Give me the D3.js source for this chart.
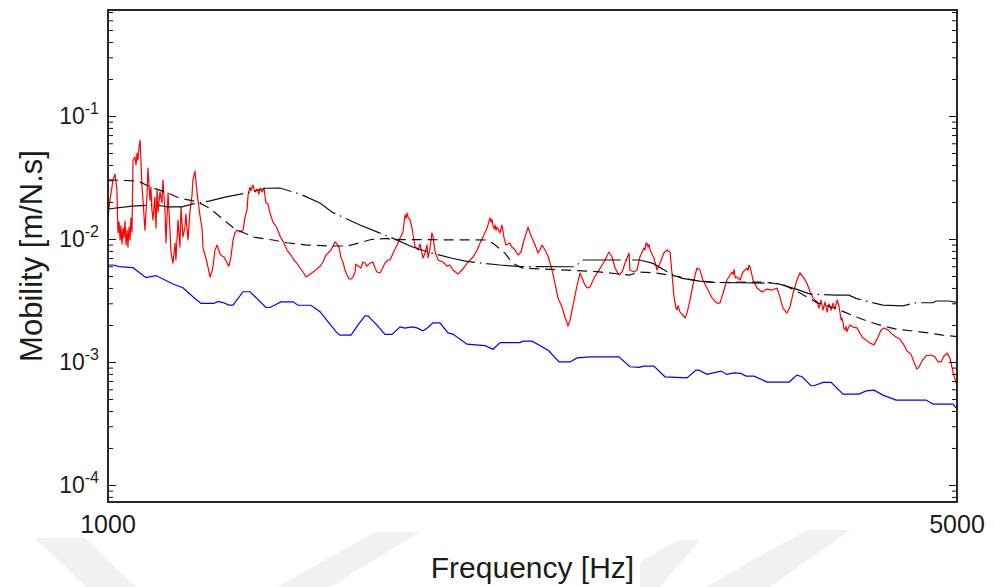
<!DOCTYPE html>
<html>
<head>
<meta charset="utf-8">
<script src="https://cdn.jsdelivr.net/npm/d3@7"></script>
<style>
  body { margin: 0; background: #fff; }
  svg { display: block; }
  text { font-family: "Liberation Sans", Arial, sans-serif; fill: #1c1c1c; }
</style>
</head>
<body>
<svg id="chart" width="994" height="587"></svg>
<script>
// ---- axis settings ----
const freqDomain = [1000, 5000];
const freqTicks = [1000, 5000];
const mobilityDomain = [7.34e-5, 0.734];
const mobilityTickExp = [-1, -2, -3, -4];

// ---- measured mobility (red), [Hz, m/N.s] ----
const redTrace = [
[1000,0.0152],[1009,0.0209],[1024,0.0305],[1033,0.0341],[1042,0.0253],[1047,0.0113],[1052,0.0139],[1057,0.0099],
[1061,0.0129],[1066,0.00918],[1071,0.0124],[1075,0.0103],[1080,0.0141],[1085,0.00901],[1090,0.0119],[1094,0.00868],
[1099,0.0126],[1104,0.0099],[1108,0.015],[1113,0.0115],[1118,0.0443],[1127,0.0468],[1132,0.0403],[1137,0.0505],
[1141,0.0443],[1146,0.0554],[1151,0.0644],[1155,0.0443],[1160,0.0267],[1165,0.0209],[1174,0.0119],[1184,0.023],
[1188,0.0381],[1198,0.0209],[1202,0.0267],[1207,0.0174],[1212,0.0144],[1221,0.0221],[1226,0.0124],[1231,0.0253],
[1236,0.0167],[1245,0.0243],[1254,0.0198],[1259,0.0305],[1269,0.0164],[1273,0.00936],[1283,0.0239],[1292,0.0119],
[1297,0.00776],[1306,0.00643],[1316,0.00936],[1320,0.00681],[1330,0.0144],[1339,0.00868],[1344,0.0184],[1353,0.0105],
[1363,0.0126],[1367,0.0161],[1377,0.0099],[1386,0.0167],[1396,0.023],[1400,0.0305],[1410,0.036],[1419,0.0243],
[1424,0.0209],[1433,0.0158],[1443,0.0124],[1448,0.00852],[1457,0.00747],[1466,0.00656],[1481,0.00495],[1490,0.00554],
[1495,0.00608],[1504,0.00821],[1514,0.00901],[1528,0.00762],[1537,0.00734],[1547,0.0072],[1561,0.00643],[1570,0.00608],
[1580,0.00734],[1589,0.0099],[1598,0.0113],[1608,0.0119],[1622,0.0115],[1636,0.0119],[1645,0.015],[1655,0.0174],
[1660,0.023],[1669,0.0267],[1674,0.0249],[1678,0.0262],[1683,0.0277],[1688,0.0256],[1693,0.0243],[1702,0.0257],
[1711,0.0234],[1716,0.0262],[1721,0.0251],[1726,0.0243],[1735,0.0262],[1744,0.0198],[1754,0.0194],[1763,0.0164],
[1777,0.0139],[1796,0.0124],[1810,0.0107],[1829,0.00936],[1843,0.00821],[1862,0.00747],[1876,0.00681],[1890,0.00643],
[1905,0.00586],[1919,0.00544],[1933,0.00495],[1947,0.00514],[1966,0.00544],[1985,0.00575],[1999,0.00608],[2013,0.00656],
[2027,0.00747],[2041,0.00791],[2051,0.00821],[2060,0.00885],[2069,0.00954],[2079,0.00918],[2088,0.00868],[2098,0.00707],
[2107,0.00656],[2117,0.00564],[2126,0.00514],[2135,0.00477],[2145,0.00477],[2154,0.00495],[2164,0.00544],[2168,0.00631],
[2178,0.00608],[2192,0.00586],[2201,0.00656],[2211,0.00643],[2220,0.00608],[2234,0.00643],[2249,0.00656],[2258,0.00586],
[2267,0.00544],[2282,0.00534],[2296,0.00597],[2305,0.00643],[2319,0.00681],[2329,0.00681],[2343,0.00776],[2362,0.00901],
[2376,0.0103],[2390,0.0115],[2399,0.0158],[2404,0.0149],[2409,0.0164],[2413,0.0152],[2423,0.0144],[2432,0.0124],
[2446,0.00885],[2461,0.00821],[2470,0.00918],[2484,0.00707],[2494,0.00776],[2503,0.00901],[2508,0.00707],[2517,0.00852],
[2526,0.0113],[2531,0.0107],[2541,0.00791],[2555,0.00681],[2578,0.00656],[2597,0.00608],[2611,0.0062],[2625,0.00564],
[2649,0.00524],[2672,0.00575],[2696,0.00656],[2720,0.0072],[2739,0.00821],[2753,0.00936],[2767,0.0105],[2786,0.0124],
[2790,0.0131],[2795,0.0141],[2800,0.015],[2805,0.0138],[2809,0.0146],[2814,0.0129],[2819,0.0122],[2824,0.0131],
[2828,0.0119],[2833,0.0126],[2847,0.0113],[2856,0.0131],[2866,0.0103],[2875,0.00901],[2894,0.00936],[2903,0.00868],
[2918,0.00821],[2932,0.00747],[2946,0.00791],[2960,0.0099],[2970,0.0112],[2979,0.0126],[2993,0.0107],[3012,0.00901],
[3026,0.00776],[3035,0.00821],[3045,0.00901],[3059,0.00821],[3073,0.00734],[3092,0.00564],[3106,0.00442],[3120,0.00334],
[3139,0.00282],[3153,0.00234],[3162,0.00212],[3167,0.00198],[3177,0.00221],[3186,0.00267],[3196,0.00322],[3210,0.00426],
[3224,0.00534],[3243,0.00442],[3257,0.00403],[3271,0.0041],[3290,0.00486],[3313,0.00564],[3337,0.00656],[3360,0.00791],
[3375,0.0072],[3389,0.00586],[3407,0.00514],[3422,0.00544],[3436,0.00643],[3455,0.00776],[3459,0.00564],[3478,0.00544],
[3492,0.00564],[3506,0.0072],[3525,0.00852],[3530,0.0082],[3534,0.0093],[3539,0.00936],[3544,0.0087],[3549,0.0091],
[3554,0.00821],[3572,0.00707],[3587,0.00564],[3601,0.00643],[3619,0.00776],[3634,0.00821],[3648,0.00791],[3657,0.00534],
[3667,0.0034],[3676,0.00277],[3681,0.00268],[3686,0.0029],[3695,0.00257],[3709,0.00243],[3719,0.0023],[3728,0.00252],
[3742,0.00322],[3751,0.00388],[3766,0.00514],[3775,0.00586],[3789,0.00564],[3803,0.00468],[3822,0.00403],[3846,0.00334],
[3869,0.00304],[3883,0.00304],[3898,0.00367],[3916,0.00468],[3940,0.00544],[3945,0.0052],[3950,0.0057],[3955,0.0049],
[3963,0.00495],[3978,0.00468],[3992,0.00544],[4011,0.00586],[4016,0.0056],[4020,0.0062],[4025,0.00597],[4030,0.0055],
[4039,0.00468],[4058,0.00403],[4081,0.00374],[4105,0.00395],[4129,0.00388],[4152,0.00403],[4166,0.0034],[4180,0.00277],
[4199,0.00252],[4213,0.00282],[4228,0.00367],[4246,0.00468],[4260,0.00534],[4275,0.00495],[4293,0.00442],[4308,0.00374],
[4322,0.00334],[4341,0.0031],[4350,0.00277],[4359,0.00322],[4369,0.00267],[4378,0.0031],[4388,0.00257],[4397,0.00299],
[4407,0.00267],[4416,0.00304],[4425,0.00272],[4435,0.00322],[4444,0.00288],[4454,0.00221],[4458,0.0023],[4463,0.00213],
[4467,0.0019],[4472,0.00184],[4477,0.00196],[4482,0.00178],[4486,0.00187],[4491,0.00195],[4496,0.00202],[4510,0.00194],
[4529,0.00191],[4543,0.00173],[4557,0.00158],[4572,0.00152],[4590,0.00144],[4609,0.00139],[4628,0.00161],[4642,0.00184],
[4656,0.00191],[4675,0.00184],[4694,0.0017],[4713,0.00161],[4731,0.00155],[4750,0.00139],[4764,0.00124],[4783,0.00117],
[4797,0.00101],[4811,0.000884],[4821,0.000917],[4835,0.00103],[4854,0.00113],[4877,0.00115],[4896,0.00111],[4911,0.00101],
[4925,0.00101],[4939,0.00113],[4953,0.00119],[4967,0.00109],[4976,0.000917],[4986,0.000775],[5000,0.000655]
];

// ---- lower envelope (blue) ----
const blueTrace = [
[1000,0.0062],[1024,0.0062],[1052,0.00602],[1118,0.0059],[1179,0.00489],[1226,0.00509],[1306,0.00434],[1353,0.00405],
[1400,0.00342],[1438,0.00302],[1499,0.00302],[1518,0.00314],[1542,0.00307],[1570,0.00293],[1589,0.00293],[1636,0.00376],
[1669,0.00376],[1744,0.0028],[1763,0.0028],[1815,0.00311],[1872,0.00311],[1895,0.00292],[1956,0.00292],[1999,0.00259],
[2037,0.00214],[2074,0.00178],[2093,0.00167],[2145,0.00167],[2178,0.00202],[2211,0.00239],[2225,0.00239],[2263,0.00205],
[2305,0.00169],[2338,0.00169],[2376,0.00195],[2399,0.0019],[2432,0.00195],[2456,0.00191],[2484,0.00181],[2503,0.0019],
[2531,0.0021],[2564,0.0021],[2602,0.00174],[2625,0.0017],[2691,0.00141],[2776,0.00137],[2814,0.00128],[2847,0.00145],
[2941,0.00145],[2955,0.00149],[2998,0.00149],[3045,0.00134],[3078,0.00124],[3125,0.00101],[3177,0.00101],[3210,0.00109],
[3271,0.00111],[3407,0.00111],[3459,0.000923],[3502,0.000912],[3525,0.000935],[3572,0.000935],[3624,0.000765],[3728,0.00075],
[3770,0.000867],[3784,0.000867],[3822,0.0008],[3888,0.000851],[3916,0.0008],[3949,0.000824],[3982,0.000815],[4006,0.000775],
[4044,0.000775],[4105,0.000693],[4209,0.000693],[4246,0.00079],[4270,0.000765],[4312,0.000647],[4326,0.000647],[4369,0.000689],
[4407,0.000689],[4463,0.000553],[4538,0.000553],[4572,0.000588],[4609,0.000596],[4651,0.000543],[4713,0.000495],[4854,0.000495],
[4887,0.000459],[4981,0.000459],[5000,0.00042]
];

// ---- smoothed estimate (black dashed) ----
const dashedTrace = [
[1000,0.0305],[1141,0.0299],[1198,0.0268],[1278,0.024],[1339,0.0216],[1419,0.0203],[1481,0.0179],[1537,0.0148],
[1589,0.0125],[1636,0.0114],[1693,0.0104],[1777,0.0099],[1843,0.00941],[1938,0.00901],[2060,0.00885],[2126,0.00885],
[2187,0.00941],[2239,0.01],[2319,0.0102],[2329,0.00999],[2786,0.0099],[2814,0.0093],[2870,0.00773],[2908,0.00639],
[2955,0.00583],[3007,0.0058],[3163,0.00564],[3304,0.00547],[3455,0.00514],[3506,0.00544],[3577,0.00534],[3676,0.00504],
[3728,0.00477],[3789,0.00459],[3883,0.00447],[4096,0.00451],[4185,0.00426],[4260,0.00367],[4345,0.00304],[4430,0.00275],
[4468,0.00258],[4524,0.00235],[4586,0.00214],[4651,0.00198],[4713,0.00187],[4793,0.0018],[4854,0.00175],[4934,0.00167],
[5000,0.00162]
];

// ---- band estimate (black dash-dot) ----
const dashDotTrace = [
[1000,0.0177],[1113,0.0187],[1221,0.0191],[1283,0.0184],[1349,0.0184],[1396,0.0194],[1481,0.0206],[1551,0.0221],
[1655,0.0239],[1740,0.0261],[1810,0.0262],[1905,0.0234],[1999,0.0198],[2055,0.0167],[2187,0.0131],[2338,0.0103],
[2432,0.00873],[2517,0.00783],[2621,0.00704],[2696,0.0066],[2847,0.0062],[2941,0.00602],[3200,0.006],[3238,0.00681],
[3506,0.00681],[3568,0.00639],[3634,0.00546],[3705,0.00482],[3789,0.00459],[3846,0.00447],[3978,0.00445],[4110,0.00442],
[4152,0.00439],[4246,0.00393],[4308,0.0036],[4430,0.00353],[4491,0.00353],[4524,0.00332],[4586,0.00311],[4651,0.00293],
[4746,0.00289],[4807,0.00306],[4887,0.00306],[4901,0.00316],[4962,0.00316],[5000,0.00308]
];

const svg = d3.select("#chart");
const plot = { left: 108, right: 957, top: 10, bottom: 502 };

const x = d3.scaleLinear().domain(freqDomain).range([plot.left, plot.right]);
const y = d3.scaleLog().domain(mobilityDomain).range([plot.bottom, plot.top]);

// faint background chevrons at the foot of the page
const chevrons = [
  [[35,538],[85,538],[136,587],[86,587]],
  [[278,587],[330,557],[375,532],[420,532],[330,587]],
  [[640,562],[678,540],[700,540],[660,587],[640,587]],
  [[706,587],[770,550],[808,530],[850,530],[770,587]]
];
svg.append("g").selectAll("polygon").data(chevrons).join("polygon")
  .attr("points", d => d.map(p => p.join(",")).join(" "))
  .attr("fill", "#f1f1f1");

svg.append("clipPath").attr("id", "plotClip")
  .append("rect")
  .attr("x", plot.left).attr("y", plot.top)
  .attr("width", plot.right - plot.left).attr("height", plot.bottom - plot.top);

const line = d3.line().x(d => x(d[0])).y(d => y(d[1]));
const lines = svg.append("g").attr("clip-path", "url(#plotClip)").attr("fill", "none");

lines.append("path").datum(blueTrace).attr("d", line)
  .attr("stroke", "#0000ff").attr("stroke-width", 1.2);
lines.append("path").datum(redTrace).attr("d", line)
  .attr("stroke", "#ff0000").attr("stroke-width", 1.2).attr("stroke-linejoin", "round");
lines.append("path").datum(dashDotTrace).attr("d", line)
  .attr("stroke", "#111").attr("stroke-width", 1.2).attr("stroke-dasharray", "38,5,1.5,5");
lines.append("path").datum(dashedTrace).attr("d", line)
  .attr("stroke", "#111").attr("stroke-width", 1.2).attr("stroke-dasharray", "10,6");

// y ticks: major decades and minor 2..9 multiples, inside on both sides
const axes = svg.append("g").attr("stroke", "#111").attr("stroke-width", 1);
const majorTicks = mobilityTickExp.map(e => Math.pow(10, e));
const minorTicks = [];
for (let e = -5; e <= 0; e++) {
  for (let m = 2; m <= 9; m++) {
    const v = m * Math.pow(10, e);
    if (v > mobilityDomain[0] && v < mobilityDomain[1]) minorTicks.push(v);
  }
}
majorTicks.forEach(v => {
  axes.append("line").attr("x1", plot.left).attr("x2", plot.left + 8).attr("y1", y(v)).attr("y2", y(v));
  axes.append("line").attr("x1", plot.right).attr("x2", plot.right - 8).attr("y1", y(v)).attr("y2", y(v));
});
minorTicks.forEach(v => {
  axes.append("line").attr("x1", plot.left).attr("x2", plot.left + 5).attr("y1", y(v)).attr("y2", y(v));
  axes.append("line").attr("x1", plot.right).attr("x2", plot.right - 5).attr("y1", y(v)).attr("y2", y(v));
});

// frame
svg.append("rect")
  .attr("x", plot.left).attr("y", plot.top)
  .attr("width", plot.right - plot.left).attr("height", plot.bottom - plot.top)
  .attr("fill", "none").attr("stroke", "#111").attr("stroke-width", 1.8);

// y tick labels 10^n
mobilityTickExp.forEach(e => {
  const t = svg.append("text")
    .attr("x", 99).attr("y", y(Math.pow(10, e)) + 8)
    .attr("text-anchor", "end").attr("font-size", 23);
  t.append("tspan").text("10");
  t.append("tspan").attr("dy", -10).attr("font-size", 16).text(String(e));
});

// x tick labels
freqTicks.forEach(f => {
  svg.append("text")
    .attr("x", x(f)).attr("y", 533)
    .attr("text-anchor", "middle").attr("font-size", 25)
    .text(f);
});

// axis titles
svg.append("text")
  .attr("x", (plot.left + plot.right) / 2).attr("y", 578)
  .attr("text-anchor", "middle").attr("font-size", 30)
  .text("Frequency [Hz]");
svg.append("text")
  .attr("transform", `translate(42,${(plot.top + plot.bottom) / 2}) rotate(-90)`)
  .attr("text-anchor", "middle").attr("font-size", 31)
  .text("Mobility [m/N.s]");
</script>
</body>
</html>
